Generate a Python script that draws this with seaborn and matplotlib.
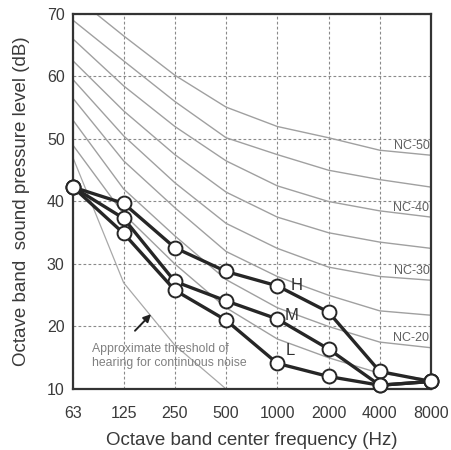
import numpy as np
import pandas as pd
import matplotlib
matplotlib.use("Agg")
import matplotlib.pyplot as plt
from matplotlib.ticker import MultipleLocator, FixedLocator, NullLocator
import seaborn as sns

# Octave band centre frequencies (Hz)
freqs = [63, 125, 250, 500, 1000, 2000, 4000, 8000]
freq_labels = ["63", "125", "250", "500", "1000", "2000", "4000", "8000"]

# Noise criterion curves (dB)
nc_names = ["NC-50", "NC-45", "NC-40", "NC-35", "NC-30", "NC-25", "NC-20", "NC-15"]
nc50 = [73.0, 66.5, 60.2, 55.1, 52.0, 50.2, 48.2, 47.4]
nc45 = [69.0, 62.5, 56.0, 50.2, 47.5, 45.0, 43.5, 42.3]
nc40 = [66.0, 58.5, 52.0, 46.5, 42.5, 40.0, 38.5, 37.5]
nc35 = [62.5, 54.5, 47.5, 41.5, 37.5, 35.0, 33.5, 32.5]
nc30 = [59.5, 50.5, 43.0, 36.5, 32.5, 29.5, 28.0, 27.4]
nc25 = [56.5, 46.5, 39.0, 32.0, 28.0, 25.0, 22.5, 21.8]
nc20 = [53.0, 42.0, 34.5, 27.5, 23.0, 20.0, 17.5, 16.6]
nc15 = [49.0, 38.0, 30.0, 23.0, 18.0, 15.0, 12.5, 11.5]
nc_values = [nc50, nc45, nc40, nc35, nc30, nc25, nc20, nc15]
nc_labelled = ["NC-50", "NC-40", "NC-30", "NC-20"]

# Approximate threshold of hearing for continuous noise
threshold = [47.0, 27.0, 17.0, 10.0, 4.0, 1.0, 0.0, 0.0]

# Measured spectra H / M / L
series_names = ["H", "M", "L"]
level_h = [42.3, 39.7, 32.6, 28.8, 26.5, 22.3, 12.8, 11.2]
level_m = [42.3, 37.3, 27.2, 24.1, 21.2, 16.4, 10.6, 11.2]
level_l = [42.3, 34.9, 25.8, 21.0, 14.1, 12.0, 10.6, 11.2]

nc_df = pd.concat([pd.DataFrame({"curve": n, "freq": freqs, "level": v})
                   for n, v in zip(nc_names, nc_values)], ignore_index=True)
thr_df = pd.DataFrame({"freq": freqs, "level": threshold})
data_df = pd.concat([pd.DataFrame({"series": n, "freq": freqs, "level": v})
                     for n, v in zip(series_names, [level_h, level_m, level_l])],
                    ignore_index=True)

sns.set_style("white")
plt.rcParams["font.family"] = ["Liberation Sans", "DejaVu Sans"]

fig = plt.figure(figsize=(4.52, 4.5), dpi=100)
ax = fig.add_axes([0.1615, 0.1356, 0.792, 0.8333])
ax.set_xscale("log", base=2)

# NC curves
sns.lineplot(data=nc_df, x="freq", y="level", units="curve", estimator=None,
             color="#a0a0a0", lw=1.0, legend=False, ax=ax, zorder=2)
# threshold of hearing
sns.lineplot(data=thr_df, x="freq", y="level", color="#a8a8a8", lw=0.9,
             ax=ax, zorder=2)
# measured spectra
for name in series_names:
    sub = data_df[data_df["series"] == name]
    sns.lineplot(data=sub, x="freq", y="level", color="#262626", lw=2.4,
                 marker="o", markersize=10, markerfacecolor="white",
                 markeredgecolor="#262626", markeredgewidth=1.4,
                 ax=ax, zorder=5, clip_on=False)

ax.set_xlim(freqs[0], freqs[-1])
ax.set_ylim(10, 70)
ax.xaxis.set_major_locator(FixedLocator(freqs))
ax.xaxis.set_minor_locator(NullLocator())
ax.set_xticklabels(freq_labels)
ax.yaxis.set_major_locator(MultipleLocator(10))
ax.yaxis.set_minor_locator(MultipleLocator(1))

ax.grid(True, which="major", color="#8a8a8a", lw=0.8, ls=(0, (2.5, 2)))
ax.set_axisbelow(True)
for s in ax.spines.values():
    s.set_color("#333333")
    s.set_linewidth(1.6)
    s.set_visible(True)

ax.tick_params(axis="y", which="major", direction="in", length=5, width=1.2,
               color="#333333", labelsize=11.5, labelcolor="#3a3a3a", pad=6)
ax.tick_params(axis="y", which="minor", direction="in", length=3, width=1.0,
               color="#333333")
ax.tick_params(axis="x", which="major", length=0, labelsize=11.5,
               labelcolor="#3a3a3a", pad=12)

ax.set_xlabel("Octave band center frequency (Hz)", fontsize=13.5,
              color="#3a3a3a", labelpad=8)
ax.set_ylabel("Octave band  sound pressure level (dB)", fontsize=13.5,
              color="#3a3a3a", labelpad=12)

# NC labels at the right edge
for n, v in zip(nc_names, nc_values):
    if n in nc_labelled:
        ax.text(freqs[-1] * 0.98, v[-1] + 1.5, n, ha="right", va="center",
                fontsize=9, color="#606060", zorder=3)

# series labels
ax.text(1000 * 1.2, 26.6, "H", fontsize=12, color="#303030", ha="left", va="center")
ax.text(1000 * 1.1, 21.7, "M", fontsize=12, color="#303030", ha="left", va="center")
ax.text(1000 * 1.12, 16.2, "L", fontsize=12, color="#303030", ha="left", va="center")

# threshold annotation
ax.annotate("", xy=(186, 22.3), xytext=(142, 19.0),
            arrowprops=dict(arrowstyle="-|>", color="#222222", lw=1.4,
                            mutation_scale=11))
ax.text(81, 15.3, "Approximate threshold of\nhearing for continuous noise",
        fontsize=8.8, color="#808080", ha="left", va="center", linespacing=1.15)

fig.savefig("out.png", dpi=100)
